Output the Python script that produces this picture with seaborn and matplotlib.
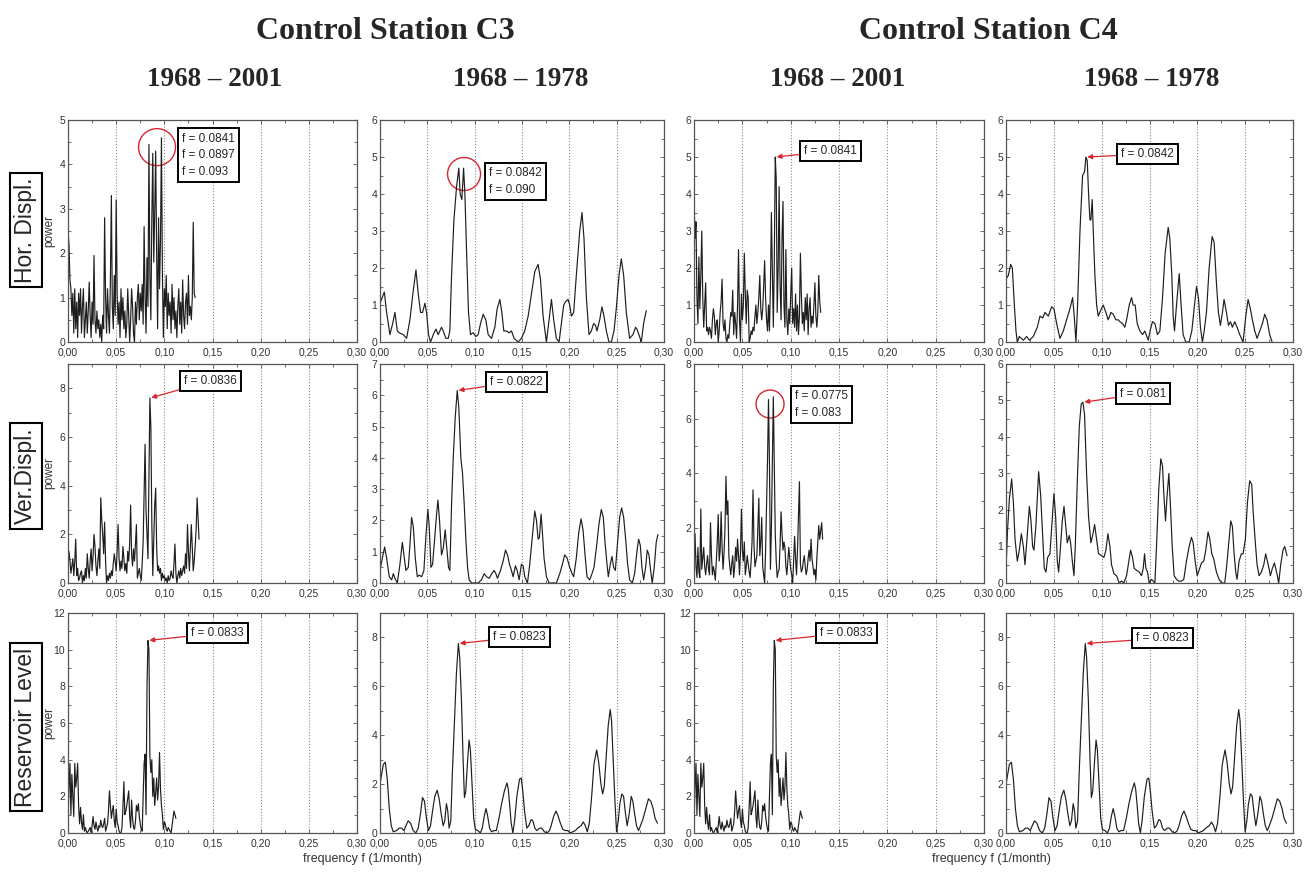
import numpy as np
import pandas as pd
import seaborn as sns
from matplotlib import pyplot as plt
from matplotlib.patches import Ellipse
from matplotlib.ticker import FuncFormatter, MultipleLocator

#%% periodogram values
# long records (1968-2001), sampled every 0.001 1/month starting at 0
hor_c3_long = [2.5, 2.2, 1.4, 1.2, 0.6, 1.1, 0.2, 1.2, 0.3, 0.9,
               0.1, 1.1, 0.6, 1.2, 0.2, 0.8, 1.2, 0.1, 0.5, 0.9,
               0.2, 0.7, 1.35, 0.6, 0.1, 0.9, 0.4, 1.95, 0.5, 0.2,
               0.7, 0.3, 0.5, 0.1, 0.4, 0.0, 0.6, 0.3, 2.8, 1.0,
               0.2, 1.2, 0.6, 0.2, 1.4, 3.3, 0.8, 0.3, 1.5, 0.6,
               3.2, 1.1, 0.4, 0.9, 0.1, 1.2, 0.5, 1.0, 0.3, 0.7,
               0.1, 0.4, 1.2, 0.6, 0.0, 0.5, 1.2, 0.8, 0.2, 0.0,
               0.9, 0.4, 1.0, 1.3, 0.5, 1.1, 0.7, 1.3, 0.4, 2.6,
               1.0, 0.2, 1.9, 0.8, 4.45, 1.5, 0.5, 2.8, 4.25, 1.8,
               2.9, 4.3, 2.0, 0.3, 2.8, 1.2, 2.3, 4.6, 1.5, 0.1,
               1.2, 0.8, 1.5, 0.3, 1.1, 0.6, 0.9, 0.2, 1.3, 0.5,
               1.0, 0.3, 0.7, 0.1, 0.8, 1.2, 0.4, 0.9, 0.2, 1.4,
               0.6, 0.3, 0.9, 1.1, 0.4, 1.5, 0.6, 0.8, 0.5, 1.0,
               2.7, 1.1, 1.0]

hor_c4_long = [3.8, 2.8, 3.25, 1.2, 0.5, 2.3, 0.9, 1.8, 3.0, 1.2,
               0.4, 1.0, 1.6, 0.3, 0.4, 0.2, 0.4, 0.3, 0.1, 0.6,
               0.9, 0.7, 0.2, 0.5, 0.6, 0.0, 0.3, 0.8, 1.1, 1.7,
               0.5, 0.3, 0.6, 0.1, 0.0, 0.2, 0.1, 0.5, 0.8, 0.7,
               1.4, 0.2, 0.8, 0.5, 0.1, 1.0, 2.5, 0.6, 0.0, 1.3,
               0.6, 1.0, 2.4, 1.3, 0.5, 1.4, 1.2, 0.0, 0.1, 0.3,
               0.2, 0.4, 0.3, 0.7, 1.0, 0.5, 0.8, 1.2, 1.8, 0.9,
               0.6, 0.9, 1.5, 2.2, 1.2, 0.6, 0.3, 1.0, 0.3, 1.5,
               3.5, 2.0, 0.4, 2.2, 5.0, 4.4, 0.8, 2.0, 4.2, 1.5,
               0.6, 2.8, 3.8, 1.0, 0.4, 2.5, 0.6, 0.2, 0.9, 0.5,
               1.3, 2.0, 0.5, 0.9, 0.4, 1.3, 0.3, 1.0, 0.2, 0.7,
               2.4, 1.3, 0.5, 0.8, 0.3, 1.2, 0.6, 1.3, 0.2, 0.9,
               1.2, 0.4, 0.7, 0.5, 1.0, 1.6, 0.7, 0.4, 0.8, 1.8,
               1.1, 0.8]

ver_c3_long = [0.8, 1.3, 0.9, 0.4, 0.7, 1.0, 0.3, 0.9, 1.8, 0.3,
               0.6, 0.1, 0.2, 0.4, 0.5, 0.0, 0.3, 0.1, 0.6, 0.2,
               1.2, 0.6, 0.2, 0.9, 1.4, 0.5, 1.1, 2.0, 1.5, 0.7,
               0.3, 0.9, 1.4, 0.6, 3.5, 2.6, 2.0, 1.2, 2.5, 0.9,
               0.0, 0.3, 0.1, 0.4, 0.2, 0.5, 0.3, 0.8, 1.2, 0.9,
               0.5, 1.3, 2.4, 1.0, 0.5, 0.9, 0.6, 1.5, 1.0, 0.5,
               0.8, 0.4, 1.3, 0.9, 1.6, 3.2, 1.2, 0.7, 1.4, 0.9,
               1.6, 2.4, 0.2, 0.4, 0.6, 0.3, 0.1, 0.8, 1.7, 3.8,
               5.7, 3.0, 2.0, 1.0, 4.4, 7.6, 6.4, 2.5, 0.3, 1.8,
               3.2, 3.9, 1.5, 0.5, 0.7, 0.4, 0.6, 0.1, 0.4, 0.2,
               0.3, 0.1, 0.2, 0.0, 0.3, 0.1, 0.2, 0.5, 0.3, 0.2,
               0.8, 1.6, 0.4, 0.0, 0.3, 0.5, 0.2, 0.6, 0.3, 0.5,
               0.7, 0.4, 1.2, 0.6, 2.4, 1.3, 0.5, 1.4, 2.4, 1.4,
               0.5, 0.9, 1.5, 2.2, 3.5, 2.7, 1.8]

ver_c4_long = [0.5, 1.8, 0.6, 0.2, 1.3, 0.4, 0.2, 2.7, 0.5, 0.9,
               1.3, 0.6, 0.3, 0.7, 1.0, 0.5, 0.3, 2.2, 1.0, 0.3,
               0.6, 0.4, 0.1, 0.8, 1.5, 2.5, 0.8, 1.2, 2.6, 1.3,
               0.5, 1.1, 2.0, 3.9, 2.5, 3.0, 1.0, 0.6, 0.3, 0.7,
               1.0, 0.2, 0.6, 1.3, 0.8, 1.6, 1.0, 0.3, 1.1, 2.7,
               1.2, 0.8, 1.5, 0.3, 0.6, 1.0, 0.7, 0.4, 0.2, 0.8,
               1.5, 3.4, 1.4, 0.6, 0.8, 1.0, 2.0, 3.1, 1.0, 1.5,
               2.4, 0.6, 0.3, 0.0, 1.2, 2.8, 4.5, 6.7, 4.4, 0.5,
               2.0, 4.5, 6.8, 4.4, 1.8, 0.8, 0.2, 0.4, 0.5, 1.4,
               2.6, 1.8, 1.2, 1.5, 1.3, 0.6, 0.3, 0.8, 1.3, 0.9,
               0.5, 0.3, 0.0, 0.8, 1.7, 0.9, 0.3, 1.2, 2.5, 3.7,
               0.7, 0.4, 0.5, 0.8, 1.0, 0.6, 0.3, 0.5, 0.9, 1.2,
               0.8, 1.6, 0.9, 0.6, 0.3, 0.5, 0.1, 0.9, 1.5, 2.1,
               1.6, 1.9, 2.2, 1.6]

# reservoir level is the same for both stations
res_long = [0.6, 2.5, 3.8, 1.0, 3.2, 2.0, 0.9, 3.8, 2.5, 3.0,
            3.8, 1.5, 0.5, 1.4, 0.6, 0.2, 1.0, 0.1, 0.3, 0.1,
            0.0, 0.1, 0.2, 0.3, 0.0, 0.4, 0.9, 0.4, 0.2, 0.6,
            0.3, 0.1, 0.4, 0.3, 0.7, 0.4, 0.3, 0.5, 0.8, 0.1,
            0.3, 0.5, 1.2, 2.3, 1.5, 0.8, 1.2, 1.5, 0.7, 0.3,
            1.3, 0.6, 0.4, 0.1, 0.0, 0.0, 0.3, 1.4, 2.8, 1.0,
            1.2, 1.5, 1.9, 2.3, 0.9, 0.3, 1.8, 0.8, 0.3, 0.2,
            0.6, 1.5, 1.2, 1.6, 0.9, 0.5, 0.2, 0.1, 2.0, 3.8,
            4.3, 1.0, 8.0, 10.5, 10.0, 4.2, 3.3, 4.0, 2.0, 3.0,
            1.5, 2.2, 3.0, 1.8, 2.5, 4.4, 2.4, 1.5, 1.0, 0.2,
            0.6, 0.5, 0.2, 0.1, 0.3, 0.2, 0.1, 0.0, 0.4, 0.8,
            1.2, 1.0, 0.8]

# short records (1968-1978), (frequency, power) vertices
hor_c3_short = [(0.0, 1.05), (0.0046, 1.35), (0.0070, 0.8), (0.0105, 0.2), (0.0134, 0.5),
                (0.0158, 0.8), (0.0183, 0.3), (0.0204, 0.25), (0.0246, 0.2), (0.0281, 0.1),
                (0.0316, 0.6), (0.0352, 1.4), (0.0380, 1.95), (0.0404, 1.3), (0.0429, 0.8),
                (0.0450, 0.8), (0.0475, 1.05), (0.0492, 0.8), (0.0513, 0.2), (0.0534, 0.0),
                (0.0563, 0.2), (0.0591, 0.35), (0.0615, 0.2), (0.0650, 0.4), (0.0668, 0.3),
                (0.0696, 0.1), (0.0721, 0.1), (0.0738, 0.3), (0.0756, 1.8), (0.0781, 3.3),
                (0.0809, 4.2), (0.0833, 4.7), (0.0847, 4.0), (0.0865, 3.85), (0.0883, 4.7),
                (0.0897, 4.0), (0.0914, 2.5), (0.0935, 0.8), (0.0956, 0.2), (0.0984, 0.25),
                (0.1013, 0.15), (0.1037, 0.2), (0.1062, 0.5), (0.1090, 0.75), (0.1118, 0.6),
                (0.1143, 0.2), (0.1178, 0.1), (0.1213, 0.4), (0.1238, 0.9), (0.1266, 1.15),
                (0.1287, 0.8), (0.1308, 0.3), (0.1336, 0.3), (0.1364, 0.25), (0.1389, 0.3),
                (0.1417, 0.1), (0.1459, 0.0), (0.1494, 0.1), (0.1529, 0.3), (0.1565, 0.7),
                (0.1600, 1.3), (0.1635, 1.9), (0.1670, 2.1), (0.1695, 1.7), (0.1723, 0.7),
                (0.1758, 0.0), (0.1786, 0.6), (0.1811, 1.15), (0.1835, 0.6), (0.1863, 0.1),
                (0.1892, 0.0), (0.1916, 0.5), (0.1941, 1.0), (0.1962, 1.1), (0.1987, 1.15),
                (0.2004, 1.0), (0.2022, 0.7), (0.2046, 0.8), (0.2074, 1.8), (0.2110, 3.0),
                (0.2134, 3.5), (0.2155, 2.8), (0.2180, 1.2), (0.2208, 0.2), (0.2233, 0.3),
                (0.2257, 0.5), (0.2278, 0.45), (0.2292, 0.3), (0.2321, 0.6), (0.2345, 0.95),
                (0.2366, 0.7), (0.2391, 0.3), (0.2419, 0.0), (0.2444, 0.0), (0.2472, 0.3),
                (0.2496, 0.9), (0.2525, 1.8), (0.2549, 2.25), (0.2574, 1.8), (0.2602, 0.8),
                (0.2637, 0.1), (0.2672, 0.2), (0.2700, 0.4), (0.2714, 0.35), (0.2742, 0.15),
                (0.2760, 0.0), (0.2785, 0.5), (0.2813, 0.85)]

hor_c4_short = [(0.0, 1.7), (0.0024, 1.8), (0.0049, 2.1), (0.0066, 2.0), (0.0087, 1.0),
                (0.0104, 0.3), (0.0118, 0.0), (0.0139, 0.15), (0.0160, 0.1), (0.0181, 0.05),
                (0.0216, 0.15), (0.0244, 0.05), (0.0285, 0.15), (0.0327, 0.4), (0.0355, 0.7),
                (0.0383, 0.65), (0.0407, 0.8), (0.0442, 0.7), (0.0477, 0.95), (0.0501, 0.9),
                (0.0529, 0.5), (0.0564, 0.1), (0.0599, 0.3), (0.0633, 0.6), (0.0668, 0.9),
                (0.0696, 1.2), (0.0713, 0.7), (0.0731, 0.0), (0.0748, 1.0), (0.0773, 3.0),
                (0.0800, 4.5), (0.0821, 4.6), (0.0835, 5.0), (0.0849, 4.9), (0.0863, 4.0),
                (0.0877, 3.3), (0.0887, 3.3), (0.0901, 3.85), (0.0912, 3.0), (0.0929, 1.8),
                (0.0947, 1.0), (0.0964, 0.7), (0.0988, 0.85), (0.1016, 1.0), (0.1044, 0.8),
                (0.1068, 0.6), (0.1096, 0.8), (0.1121, 0.75), (0.1148, 0.6), (0.1173, 0.6),
                (0.1190, 0.55), (0.1218, 0.5), (0.1242, 0.4), (0.1260, 0.6), (0.1288, 1.0),
                (0.1312, 1.2), (0.1329, 1.0), (0.1350, 1.0), (0.1371, 0.5), (0.1399, 0.3),
                (0.1427, 0.2), (0.1451, 0.3), (0.1486, 0.05), (0.1510, 0.35), (0.1531, 0.55),
                (0.1556, 0.5), (0.1583, 0.2), (0.1608, 0.3), (0.1636, 1.2), (0.1663, 2.4),
                (0.1695, 3.1), (0.1712, 2.8), (0.1733, 1.8), (0.1747, 0.7), (0.1761, 0.3),
                (0.1782, 1.0), (0.1810, 1.85), (0.1830, 1.0), (0.1851, 0.2), (0.1879, 0.0),
                (0.1914, 0.0), (0.1942, 0.3), (0.1970, 1.0), (0.1991, 1.5), (0.2011, 1.2),
                (0.2032, 0.4), (0.2053, 0.0), (0.2071, 0.3), (0.2095, 0.8), (0.2123, 2.0),
                (0.2154, 2.85), (0.2175, 2.7), (0.2199, 1.6), (0.2220, 0.8), (0.2241, 0.45),
                (0.2262, 0.8), (0.2279, 1.15), (0.2304, 0.8), (0.2325, 0.45), (0.2346, 0.55),
                (0.2366, 0.4), (0.2391, 0.55), (0.2415, 0.4), (0.2443, 0.2), (0.2478, 0.0),
                (0.2506, 0.7), (0.2530, 1.15), (0.2554, 0.9), (0.2575, 0.6), (0.2600, 0.3),
                (0.2624, 0.1), (0.2652, 0.3), (0.2680, 0.5), (0.2704, 0.75), (0.2728, 0.6),
                (0.2756, 0.2), (0.2781, 0.0)]

ver_c3_short = [(0.0, 0.4), (0.0025, 0.8), (0.0049, 1.15), (0.0070, 0.8), (0.0098, 0.2),
                (0.0123, 0.1), (0.0141, 0.3), (0.0158, 0.15), (0.0183, 0.0), (0.0211, 0.6),
                (0.0236, 1.3), (0.0253, 0.9), (0.0274, 0.4), (0.0299, 0.5), (0.0316, 1.2),
                (0.0334, 2.1), (0.0352, 1.8), (0.0373, 0.8), (0.0394, 0.2), (0.0415, 0.25),
                (0.0440, 0.2), (0.0464, 0.4), (0.0485, 1.5), (0.0506, 2.35), (0.0520, 1.8),
                (0.0538, 0.5), (0.0556, 0.6), (0.0577, 1.4), (0.0598, 2.2), (0.0612, 2.65),
                (0.0629, 2.0), (0.0650, 0.9), (0.0668, 1.1), (0.0689, 1.7), (0.0703, 1.2),
                (0.0724, 0.5), (0.0738, 0.4), (0.0756, 2.5), (0.0774, 4.0), (0.0795, 5.3),
                (0.0816, 6.15), (0.0833, 5.6), (0.0854, 4.0), (0.0872, 3.5), (0.0890, 2.5),
                (0.0907, 1.4), (0.0925, 0.5), (0.0942, 0.1), (0.0967, 0.0), (0.1002, 0.0),
                (0.1037, 0.0), (0.1072, 0.1), (0.1101, 0.3), (0.1125, 0.2), (0.1153, 0.15),
                (0.1181, 0.3), (0.1206, 0.4), (0.1224, 0.3), (0.1241, 0.15), (0.1273, 0.4),
                (0.1301, 0.7), (0.1326, 1.05), (0.1347, 0.9), (0.1368, 0.6), (0.1389, 0.4),
                (0.1406, 0.2), (0.1431, 0.55), (0.1449, 0.4), (0.1470, 0.1), (0.1494, 0.6),
                (0.1512, 0.55), (0.1529, 0.2), (0.1558, 0.0), (0.1582, 0.6), (0.1610, 1.5),
                (0.1635, 2.3), (0.1653, 2.0), (0.1670, 1.4), (0.1684, 1.45), (0.1702, 2.2),
                (0.1716, 1.6), (0.1733, 0.8), (0.1758, 0.2), (0.1786, 0.0), (0.1828, 0.0),
                (0.1863, 0.0), (0.1899, 0.3), (0.1927, 0.6), (0.1951, 0.9), (0.1976, 0.8),
                (0.2004, 0.5), (0.2029, 0.3), (0.2046, 0.2), (0.2074, 0.8), (0.2099, 1.6),
                (0.2124, 2.05), (0.2145, 1.7), (0.2166, 0.9), (0.2187, 0.2), (0.2215, 0.1),
                (0.2240, 0.3), (0.2261, 0.5), (0.2285, 1.1), (0.2314, 1.9), (0.2338, 2.35),
                (0.2359, 2.1), (0.2377, 1.3), (0.2398, 0.6), (0.2412, 0.2), (0.2433, 0.6),
                (0.2451, 0.85), (0.2468, 0.5), (0.2486, 0.4), (0.2507, 1.2), (0.2532, 2.1),
                (0.2553, 2.4), (0.2574, 2.1), (0.2595, 1.4), (0.2616, 0.6), (0.2637, 0.1),
                (0.2665, 0.0), (0.2690, 0.3), (0.2714, 1.0), (0.2732, 1.4), (0.2750, 1.2),
                (0.2767, 0.5), (0.2785, 0.1), (0.2806, 0.5), (0.2823, 1.05), (0.2841, 0.9),
                (0.2859, 0.4), (0.2876, 0.0), (0.2897, 0.5), (0.2918, 1.3), (0.2936, 1.55)]

ver_c4_short = [(0.0, 0.4), (0.0017, 1.5), (0.0035, 2.3), (0.0059, 2.85), (0.0077, 2.2),
                (0.0094, 1.2), (0.0118, 0.6), (0.0139, 0.9), (0.0160, 1.35), (0.0181, 1.0),
                (0.0198, 0.5), (0.0216, 1.1), (0.0244, 2.1), (0.0261, 1.7), (0.0278, 1.0),
                (0.0292, 0.9), (0.0313, 1.6), (0.0341, 3.05), (0.0362, 2.4), (0.0383, 1.3),
                (0.0400, 0.4), (0.0418, 0.3), (0.0435, 0.7), (0.0459, 0.8), (0.0477, 1.5),
                (0.0501, 2.45), (0.0519, 1.8), (0.0536, 0.6), (0.0550, 0.3), (0.0567, 0.9),
                (0.0588, 1.7), (0.0606, 2.1), (0.0623, 1.6), (0.0640, 1.1), (0.0661, 1.3),
                (0.0675, 1.1), (0.0693, 0.6), (0.0710, 0.2), (0.0724, 1.0), (0.0745, 2.8),
                (0.0766, 4.3), (0.0786, 4.9), (0.0804, 4.95), (0.0821, 4.6), (0.0842, 3.0),
                (0.0863, 1.8), (0.0887, 1.1), (0.0905, 1.3), (0.0926, 1.6), (0.0947, 1.2),
                (0.0967, 0.8), (0.0999, 0.75), (0.1023, 0.7), (0.1044, 0.9), (0.1065, 1.35),
                (0.1086, 1.0), (0.1103, 0.5), (0.1128, 0.25), (0.1155, 0.2), (0.1183, 0.0),
                (0.1208, 0.05), (0.1232, 0.0), (0.1260, 0.2), (0.1284, 0.6), (0.1302, 0.9),
                (0.1322, 0.7), (0.1340, 0.4), (0.1364, 0.35), (0.1392, 0.3), (0.1416, 0.2),
                (0.1434, 0.4), (0.1448, 0.8), (0.1462, 0.4), (0.1479, 0.3), (0.1496, 0.0),
                (0.1521, 0.1), (0.1556, 0.0), (0.1573, 1.0), (0.1597, 2.6), (0.1618, 3.4),
                (0.1636, 3.2), (0.1650, 2.4), (0.1667, 1.7), (0.1684, 2.4), (0.1702, 3.0),
                (0.1719, 2.1), (0.1737, 1.0), (0.1757, 0.2), (0.1782, 0.1), (0.1806, 0.05),
                (0.1834, 0.05), (0.1858, 0.1), (0.1886, 0.6), (0.1914, 1.0), (0.1938, 1.25),
                (0.1956, 1.1), (0.1977, 0.6), (0.1998, 0.2), (0.2018, 0.35), (0.2043, 0.55),
                (0.2067, 0.6), (0.2088, 0.9), (0.2112, 1.4), (0.2130, 1.2), (0.2151, 0.8),
                (0.2172, 0.65), (0.2199, 0.3), (0.2227, 0.1), (0.2252, 0.0), (0.2286, 0.0),
                (0.2304, 0.4), (0.2332, 1.2), (0.2349, 1.7), (0.2366, 1.55), (0.2384, 0.8),
                (0.2401, 0.3), (0.2415, 0.1), (0.2436, 0.6), (0.2460, 0.8), (0.2478, 0.8),
                (0.2502, 1.2), (0.2523, 2.2), (0.2547, 2.8), (0.2568, 2.7), (0.2582, 2.0),
                (0.2603, 1.2), (0.2624, 0.5), (0.2645, 0.2), (0.2669, 0.3), (0.2694, 0.5),
                (0.2714, 0.8), (0.2732, 0.6), (0.2749, 0.4), (0.2763, 0.2), (0.2784, 0.4),
                (0.2805, 0.55), (0.2819, 0.4), (0.2836, 0.2), (0.2850, 0.0), (0.2871, 0.5),
                (0.2895, 0.9), (0.2913, 1.0), (0.2937, 0.75)]

res_short = [(0.0, 2.0), (0.0018, 2.4), (0.0035, 2.8), (0.0056, 2.9), (0.0077, 2.2),
             (0.0098, 1.0), (0.0119, 0.3), (0.0140, 0.05), (0.0176, 0.1), (0.0204, 0.2),
             (0.0228, 0.2), (0.0253, 0.1), (0.0274, 0.3), (0.0298, 0.5), (0.0323, 0.4),
             (0.0351, 0.1), (0.0379, 0.0), (0.0404, 0.2), (0.0428, 0.8), (0.0449, 1.45),
             (0.0470, 1.3), (0.0491, 0.6), (0.0512, 0.1), (0.0534, 0.3), (0.0555, 0.9),
             (0.0579, 1.5), (0.0604, 1.75), (0.0625, 1.4), (0.0646, 0.8), (0.0667, 0.3),
             (0.0684, 0.5), (0.0702, 1.2), (0.0716, 0.9), (0.0730, 0.2), (0.0748, 0.5),
             (0.0765, 2.5), (0.0786, 4.5), (0.0807, 6.5), (0.0828, 7.75), (0.0842, 7.2),
             (0.0860, 5.5), (0.0878, 3.0), (0.0892, 1.45), (0.0906, 1.7), (0.0923, 2.8),
             (0.0941, 3.8), (0.0955, 3.4), (0.0972, 2.0), (0.0990, 0.6), (0.1007, 0.15),
             (0.1035, 0.1), (0.1060, 0.0), (0.1081, 0.2), (0.1102, 0.7), (0.1120, 1.0),
             (0.1137, 0.7), (0.1158, 0.2), (0.1179, 0.05), (0.1204, 0.1), (0.1229, 0.1),
             (0.1257, 0.6), (0.1285, 1.2), (0.1313, 1.7), (0.1341, 2.05), (0.1355, 1.8),
             (0.1369, 1.2), (0.1386, 0.4), (0.1404, 0.0), (0.1422, 0.5), (0.1446, 1.5),
             (0.1474, 2.2), (0.1492, 2.25), (0.1509, 1.7), (0.1527, 0.9), (0.1551, 0.2),
             (0.1572, 0.3), (0.1597, 0.55), (0.1615, 0.5), (0.1636, 0.2), (0.1657, 0.1),
             (0.1685, 0.2), (0.1709, 0.2), (0.1737, 0.05), (0.1766, 0.0), (0.1790, 0.1),
             (0.1808, 0.3), (0.1836, 0.7), (0.1860, 0.9), (0.1881, 0.7), (0.1906, 0.4),
             (0.1931, 0.15), (0.1959, 0.1), (0.1983, 0.1), (0.2008, 0.0), (0.2036, 0.05),
             (0.2064, 0.1), (0.2088, 0.2), (0.2124, 0.3), (0.2148, 0.45), (0.2169, 0.3),
             (0.2190, 0.05), (0.2211, 0.4), (0.2236, 1.5), (0.2260, 2.8), (0.2289, 3.4),
             (0.2310, 2.9), (0.2334, 2.0), (0.2352, 1.6), (0.2369, 1.9), (0.2387, 3.0),
             (0.2411, 4.4), (0.2432, 5.05), (0.2446, 4.6), (0.2464, 3.0), (0.2482, 1.3),
             (0.2499, 0.05), (0.2517, 0.5), (0.2534, 1.2), (0.2555, 1.6), (0.2573, 1.5),
             (0.2590, 0.9), (0.2611, 0.3), (0.2633, 0.8), (0.2654, 1.5), (0.2671, 1.3),
             (0.2689, 0.8), (0.2710, 0.3), (0.2731, 0.1), (0.2752, 0.3), (0.2780, 0.6),
             (0.2808, 1.0), (0.2836, 1.4), (0.2861, 1.3), (0.2885, 1.0), (0.2906, 0.6),
             (0.2931, 0.4)]

stations = ['Control Station C3', 'Control Station C4']
periods = ['1968 \u2013 2001', '1968 \u2013 1978']
row_names = ['Hor. Displ.', 'Ver.Displ.', 'Reservoir Level']


def long_df(vals):
    return pd.DataFrame({'f': np.arange(len(vals)) * 0.001, 'power': vals})


def short_df(pairs):
    return pd.DataFrame(pairs, columns=['f', 'power'])


# row, col, data, ymax, ystep, box labels, box pos (axes frac), circle (x, y, diameter px)
panels = [
    (0, 0, long_df(hor_c3_long), 5, 1, ['f = 0.0841', 'f = 0.0897', 'f = 0.093'], (0.395, 0.842), (0.308, 0.878, 37)),
    (0, 1, short_df(hor_c3_short), 6, 1, ['f = 0.0842', 'f = 0.090'], (0.384, 0.723), (0.296, 0.757, 33)),
    (0, 2, long_df(hor_c4_long), 6, 1, ['f = 0.0841'], (0.380, 0.860), None),
    (0, 3, short_df(hor_c4_short), 6, 1, ['f = 0.0842'], (0.401, 0.847), None),
    (1, 0, long_df(ver_c3_long), 9, 2, ['f = 0.0836'], (0.402, 0.922), None),
    (1, 1, short_df(ver_c3_short), 7, 1, ['f = 0.0822'], (0.387, 0.918), None),
    (1, 2, long_df(ver_c4_long), 8, 2, ['f = 0.0775', 'f = 0.083'], (0.348, 0.815), (0.262, 0.817, 28)),
    (1, 3, short_df(ver_c4_short), 6, 1, ['f = 0.081'], (0.397, 0.865), None),
    (2, 0, long_df(res_long), 12, 2, ['f = 0.0833'], (0.426, 0.909), None),
    (2, 1, short_df(res_short), 9, 2, ['f = 0.0823'], (0.398, 0.891), None),
    (2, 2, long_df(res_long), 12, 2, ['f = 0.0833'], (0.435, 0.909), None),
    (2, 3, short_df(res_short), 9, 2, ['f = 0.0823'], (0.453, 0.886), None),
]

#%%
sns.set_style('ticks')
plt.rcParams['font.family'] = ['Liberation Sans', 'DejaVu Sans']

fig = plt.figure(figsize=(13.13, 8.73), dpi=100)

col_left = [0.0518, 0.2894, 0.5286, 0.7662]
col_width = [0.2201, 0.2163, 0.2209, 0.2186]
row_bottom = [0.6082, 0.3322, 0.0458]
row_height = [0.2543, 0.2509, 0.2520]

comma = FuncFormatter(lambda v, p: ('%.2f' % v).replace('.', ','))

for r, c, df, ymax, ystep, labels, box, circ in panels:
    ax = fig.add_axes([col_left[c], row_bottom[r], col_width[c], row_height[r]])
    sns.lineplot(data=df, x='f', y='power', ax=ax, color='#1e1e1e', lw=0.85,
                 estimator=None, sort=False)
    ax.set_xlim(0, 0.30)
    ax.set_ylim(0, ymax)
    ax.set_xticks(np.arange(0, 0.301, 0.05))
    ax.set_yticks(np.arange(0, ymax + 0.01, ystep))
    ax.xaxis.set_minor_locator(MultipleLocator(0.025))
    ax.yaxis.set_minor_locator(MultipleLocator(ystep / 2))
    ax.xaxis.set_major_formatter(comma)
    ax.xaxis.grid(True, which='major', ls=':', color='#8a8a8a', lw=0.8)
    ax.tick_params(which='both', direction='in', top=True, right=True,
                   width=0.6, color='#555555', labelsize=7.5, labelcolor='#333333')
    ax.tick_params(which='major', length=3)
    ax.tick_params(which='minor', length=2)
    ax.tick_params(axis='x', pad=4)
    ax.tick_params(axis='y', pad=2)
    for s in ax.spines.values():
        s.set_color('#555555')
        s.set_linewidth(0.9)
    ax.set_xlabel('')
    if c == 0:
        ax.set_ylabel('power', fontsize=8.5, color='#333333')
        ax.yaxis.set_label_coords(-0.045, 0.5)
    else:
        ax.set_ylabel('')

    # highlighted peak
    i = df['power'].idxmax()
    peak = (df['f'][i], df['power'][i])
    arrow = None
    if circ is None:
        arrow = dict(arrowstyle='-|>', color='#d9262e', lw=0.9, mutation_scale=7,
                     shrinkA=0, shrinkB=1)
    ax.annotate('\n'.join(labels), xy=peak, xycoords='data', xytext=box,
                textcoords='axes fraction', ha='left', va='center', fontsize=8.5,
                linespacing=1.5,
                bbox=dict(boxstyle='square,pad=0.35', fc='white', ec='black', lw=1.4),
                arrowprops=arrow)
    if circ is not None:
        bb = ax.get_position()
        w = circ[2] / (bb.width * 1313)
        h = circ[2] / (bb.height * 873)
        ax.add_patch(Ellipse((circ[0], circ[1]), w, h, transform=ax.transAxes,
                             fill=False, ec='#d9262e', lw=1.0))

# headings
for k, st in enumerate(stations):
    fig.text([0.2932, 0.7525][k], 0.964, st, ha='center', va='center', fontsize=23,
             fontweight='bold', family='Liberation Serif')
sub_x = [0.1637, 0.3968, 0.6382, 0.8774]
for k, x in enumerate(sub_x):
    fig.text(x, 0.909, periods[k % 2], ha='center', va='center', fontsize=19.5,
             fontweight='bold', family='Liberation Serif')

for k, name in enumerate(row_names):
    fig.text(0.0195, [0.7365, 0.4548, 0.1672][k], name, rotation=90, ha='center',
             va='center', fontsize=16.5,
             bbox=dict(boxstyle='square,pad=0.2', fc='white', ec='black', lw=1.5))

for x in [0.2757, 0.7552]:
    fig.text(x, 0.016, 'frequency f (1/month)', ha='center', va='center', fontsize=9,
             color='#333333')

fig.savefig('out.png', dpi=100)
